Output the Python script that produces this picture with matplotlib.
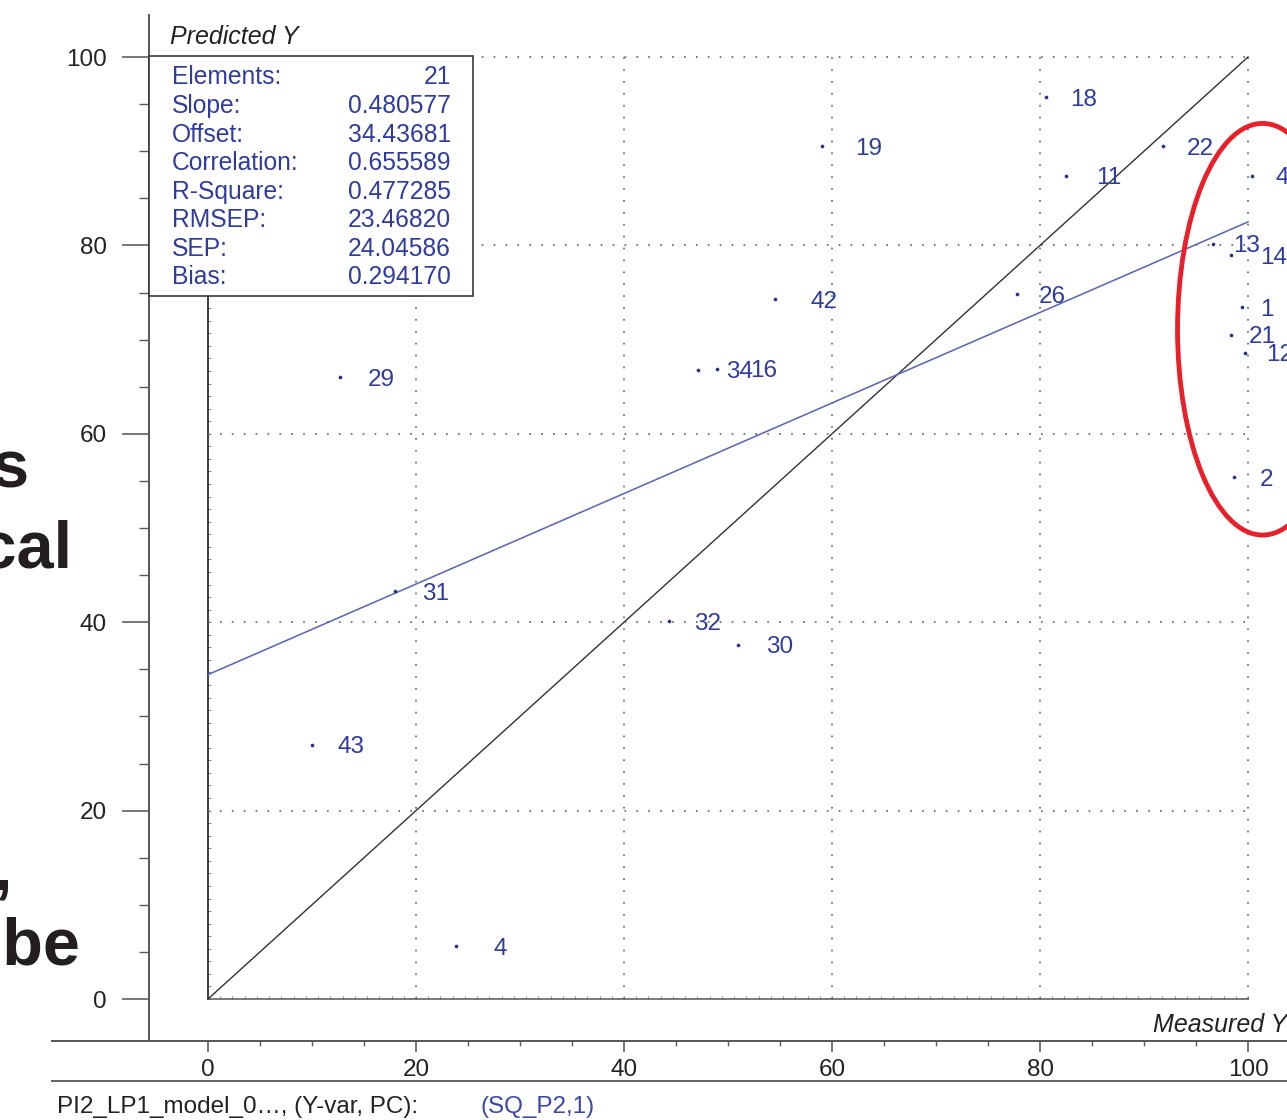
import numpy as np
import matplotlib
matplotlib.use("Agg")
import matplotlib.pyplot as plt
from matplotlib.patches import Ellipse, Rectangle
from matplotlib.lines import Line2D
from matplotlib.ticker import FixedLocator, NullFormatter

plt.rcParams['font.family'] = ['Liberation Sans', 'DejaVu Sans']

# ---------------- data ----------------
sample_ids = ["18", "19", "22", "11", "41", "13", "14", "1", "21", "12", "2",
              "42", "26", "29", "34", "16", "31", "32", "30", "43", "4"]
measured_y = [80.6, 59.0, 91.8, 82.5, 100.4, 96.6, 98.4, 99.4, 98.4, 99.7, 98.65,
              54.5, 77.8, 12.7, 47.1, 48.9, 18.0, 44.3, 51.0, 10.0, 23.85]
predicted_y = [95.75, 90.55, 90.55, 87.4, 87.4, 80.15, 78.95, 73.45, 70.5, 68.6, 55.4,
               74.3, 74.8, 66.0, 66.8, 66.9, 43.3, 40.1, 37.6, 27.0, 5.6]
label_dx_px = [24, 34, 24, 30, 23, 20, 29, 18, 17, 21, 26,
               36, 22, 28, 28, 34, 27, 25, 28, 25, 37]

stat_names = ["Elements:", "Slope:", "Offset:", "Correlation:", "R-Square:",
              "RMSEP:", "SEP:", "Bias:"]
stat_values = ["21", "0.480577", "34.43681", "0.655589", "0.477285",
               "23.46820", "24.04586", "0.294170"]
slope = float(stat_values[1])
offset = float(stat_values[2])

major_ticks = [0, 20, 40, 60, 80, 100]
minor_ticks = [v for v in range(5, 100, 5) if v % 20 != 0]
x_tick_labels = ["0", "20", "40", "60", "80", "100"]
y_tick_labels = ["0", "20", "40", "60", "80", "100"]

x_label = "Measured Y"
y_label = "Predicted Y"
footer_left = "PI2_LP1_model_0\u2026, (Y-var, PC):"
footer_right = "(SQ_P2,1)"
slide_fragments = ["s", "ical", ",", "probe"]

# ---------------- layout ----------------
W, H, DPI = 1287, 1120, 100
PT = 72.0 / DPI  # points per pixel


def fx(x):
    return x / W


def fy(y):
    return 1 - y / H


AX_L, AX_R, AX_T, AX_B = 52, 1287, 15, 1041
X0_PX, X100_PX = 208, 1248
Y0_PX, Y100_PX = 999, 57
sx = (X100_PX - X0_PX) / 100.0
sy = (Y0_PX - Y100_PX) / 100.0
xlim = ((AX_L - X0_PX) / sx, (AX_R - X0_PX) / sx)
ylim = ((Y0_PX - AX_B) / sy, (Y0_PX - AX_T) / sy)
YSPINE_X = (149 - X0_PX) / sx

BOX_L, BOX_R, BOX_T, BOX_B = 149, 473, 56, 296
box_x0 = (BOX_L - X0_PX) / sx
box_x1 = (BOX_R - X0_PX) / sx
box_y0 = (Y0_PX - BOX_B) / sy
box_y1 = (Y0_PX - BOX_T) / sy

BLUE_TXT = "#2f3b9e"
DOT = "#28318c"
GREY = "#5a5a5a"

fig = plt.figure(figsize=(W / DPI, H / DPI), dpi=DPI)
fig.patch.set_facecolor("white")
rect = [fx(AX_L), fy(AX_B), (AX_R - AX_L) / W, (AX_B - AX_T) / H]

# inner frame axes (lines at x=0 and y=0 with small ruler ticks)
ax_in = fig.add_axes(rect)
ax_in.set_xlim(*xlim)
ax_in.set_ylim(*ylim)
ax_in.patch.set_visible(False)
for s in ("top", "right"):
    ax_in.spines[s].set_visible(False)
ax_in.spines["left"].set_position(("data", 0))
ax_in.spines["left"].set_bounds(0, box_y0)
ax_in.spines["left"].set_color("#222222")
ax_in.spines["left"].set_linewidth(1.7 * PT)
ax_in.spines["bottom"].set_position(("data", 0))
ax_in.spines["bottom"].set_bounds(0, 100)
ax_in.spines["bottom"].set_color("#666666")
ax_in.spines["bottom"].set_linewidth(1.7 * PT)
ax_in.xaxis.set_major_locator(FixedLocator(np.arange(0, 100.01, 20 / 17)))
ax_in.yaxis.set_major_locator(FixedLocator(np.arange(0, box_y0, 20 / 15)))
ax_in.xaxis.set_major_formatter(NullFormatter())
ax_in.yaxis.set_major_formatter(NullFormatter())
ax_in.tick_params(direction="in", length=3 * PT, width=1.0 * PT, color="#888888")

# main data axes
ax = fig.add_axes(rect)
ax.set_xlim(*xlim)
ax.set_ylim(*ylim)
ax.patch.set_visible(False)
for s in ("top", "right"):
    ax.spines[s].set_visible(False)
ax.spines["left"].set_position(("data", YSPINE_X))
for s in ("left", "bottom"):
    ax.spines[s].set_color(GREY)
    ax.spines[s].set_linewidth(2.0 * PT)

ax.xaxis.set_major_locator(FixedLocator(major_ticks))
ax.xaxis.set_minor_locator(FixedLocator(minor_ticks))
ax.yaxis.set_major_locator(FixedLocator(major_ticks))
ax.yaxis.set_minor_locator(FixedLocator(minor_ticks))
ax.set_xticklabels(x_tick_labels)
ax.set_yticklabels(y_tick_labels)
ax.tick_params(axis="both", which="both", direction="out", color=GREY,
               labelcolor="#222222", labelsize=17.5)
ax.tick_params(axis="y", which="major", length=27 * PT, width=1.6 * PT, pad=15 * PT)
ax.tick_params(axis="y", which="minor", length=10 * PT, width=1.4 * PT)
ax.tick_params(axis="x", which="major", length=11 * PT, width=1.6 * PT, pad=7 * PT)
ax.tick_params(axis="x", which="minor", length=5 * PT, width=1.4 * PT)

# dotted grid (inside 0..100)
dot_style = dict(color="#666666", linewidth=1.7 * PT, linestyle=(0, (1, 6.0)), zorder=1)
ax.vlines(major_ticks[1:], 0, 100, **dot_style)
ax.hlines(major_ticks[1:], 0, 100, **dot_style)

# reference lines
xs = np.array([major_ticks[0], major_ticks[-1]], dtype=float)
ax.plot(xs, xs, color="#333333", linewidth=1.4 * PT, zorder=2)
ax.plot(xs, slope * xs + offset, color="#5d68b8", linewidth=1.6 * PT, zorder=2)

# points and labels
ax.scatter(measured_y, predicted_y, s=7, color=DOT, linewidths=0, zorder=3)
for sid, mx, my, dx in zip(sample_ids, measured_y, predicted_y, label_dx_px):
    ax.annotate(sid, (mx, my), xytext=(dx * PT, 0), textcoords="offset points",
                ha="left", va="center_baseline", fontsize=17.5, color=BLUE_TXT,
                annotation_clip=False, zorder=4)

# highlight ellipse
ax.add_patch(Ellipse((101.4, 71.1), 16.35, 43.7, fill=False, edgecolor="#e8202a",
                     linewidth=4.8 * PT, zorder=6, clip_on=False))

# statistics box
ax.add_patch(Rectangle((box_x0, box_y0), box_x1 - box_x0, box_y1 - box_y0,
                       facecolor="white", edgecolor="#333333", linewidth=1.6 * PT,
                       zorder=7, clip_on=False))
row0, row_step = 75, 28.57
for i, (name, val) in enumerate(zip(stat_names, stat_values)):
    yy = fy(row0 + i * row_step)
    fig.text(fx(172), yy, name, ha="left", va="center_baseline", fontsize=17.7,
             color=BLUE_TXT, zorder=8)
    fig.text(fx(451), yy, val, ha="right", va="center_baseline", fontsize=17.7,
             color=BLUE_TXT, zorder=8)

# axis titles
fig.text(fx(170), fy(35), y_label, ha="left", va="center_baseline", fontsize=18,
         style="italic", color="#222222")
fig.text(fx(1153), fy(1022), x_label, ha="left", va="center_baseline", fontsize=18,
         style="italic", color="#222222")

# footer
fig.add_artist(Line2D([fx(52), 1.0], [fy(1081), fy(1081)], color="#666666",
                      linewidth=2.0 * PT))
fig.text(fx(57), fy(1105), footer_left, ha="left", va="center_baseline",
         fontsize=17.5, color="#222222")
fig.text(fx(480), fy(1105), footer_right, ha="left", va="center_baseline",
         fontsize=17.5, color="#3a46a8")

# clipped slide text at the left edge
frag_pos = [(29, 487), (73, 567), (12, 890), (81, 965)]
for txt, (px_, py_) in zip(slide_fragments, frag_pos):
    fig.text(fx(px_), fy(py_), txt, ha="right", va="baseline", fontsize=48,
             fontweight="bold", color="#231f20")

fig.savefig("out.png", dpi=DPI)
